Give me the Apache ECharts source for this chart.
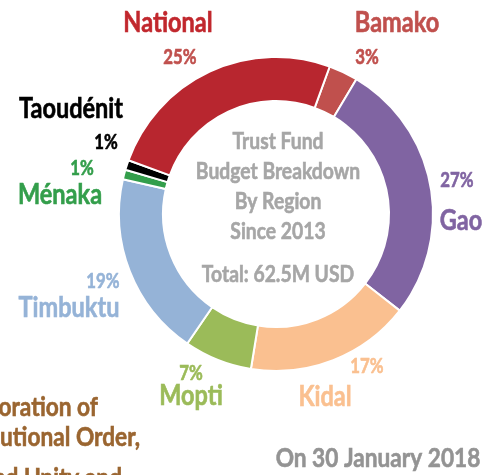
<!DOCTYPE html>
<html>
<head>
<meta charset="utf-8">
<script src="https://cdn.jsdelivr.net/npm/echarts@6/dist/echarts.min.js"></script>
<style>
html,body{margin:0;padding:0;background:#fff}
#main{width:495px;height:475px}
</style>
</head>
<body>
<div id="main"></div>
<script>
// data (share of budget, %)
var regions = ['Bamako', 'Gao', 'Kidal', 'Mopti', 'Timbuktu', 'Ménaka', 'Taoudénit', 'National'];
var shares = [3, 27, 17, 7, 19, 1, 1, 25];
var centerLines = ['Trust Fund', 'Budget Breakdown', 'By Region', 'Since 2013'];
var totalText = 'Total: 62.5M USD';
var dateText = 'On 30 January 2018';
var sideLines = ['Restoration of', 'Constitutional Order,', 'Peace and Unity and'];

// styles
var sliceColors = ['#c0504d', '#8064a2', '#fac090', '#9bbb59', '#95b3d7', '#339e4b', '#000000', '#b8262f'];
var nameColors  = ['#c0504d', '#8064a2', '#fac090', '#9bbb59', '#95b3d7', '#339e4b', '#000000', '#c1272d'];
var pctColors   = ['#c0504d', '#8064a2', '#fac090', '#9bbb59', '#95b3d7', '#339e4b', '#000000', '#c0504d'];
// [nameX, nameY, pctX, pctY] centre of each text
var labelPos = [
  [397, 23, 367, 58],
  [461, 221, 457, 181],
  [325, 397, 367, 367],
  [191, 396, 191, 374],
  [69, 308, 103, 282],
  [60, 195, 82, 169],
  [71, 109, 106, 143],
  [168, 23, 180, 58]
];
var FONT = 'Lato, Roboto, sans-serif';
var NARROW = 0.84; // squeeze to look like a condensed face

var myChart = echarts.init(document.getElementById('main'));

function txt(t, x, y, color, size, align) {
  return {
    type: 'text', silent: true, x: x, y: y, scaleX: NARROW,
    style: { text: t, x: 0, y: 0, fill: color, font: 'bold ' + size + 'px ' + FONT,
      stroke: color, lineWidth: 0.6,
      textAlign: align || 'center', textVerticalAlign: 'middle' }
  };
}

var g = [];
regions.forEach(function(n, i) {
  var p = labelPos[i];
  g.push(txt(n, p[0], p[1], nameColors[i], 28));
  g.push(txt(shares[i] + '%', p[2], p[3], pctColors[i], 20));
});
centerLines.forEach(function(t, i) {
  g.push(txt(t, 278, 142 + i * 30, '#a6a6a6', 23));
});
g.push(txt(totalText, 278, 275, '#a6a6a6', 23));
g.push(txt(dateText, 378, 458, '#939393', 27));
var sideEnds = [98, 140, 122];
var sideY = [407, 437, 478];
sideLines.forEach(function(t, i) {
  g.push(txt(t, sideEnds[i], sideY[i], '#9a6530', 27, 'right'));
});

var option = {
  animation: false,
  backgroundColor: '#ffffff',
  graphic: g,
  series: [{
    type: 'pie',
    center: [276, 214],
    radius: [113, 157],
    startAngle: 70,
    clockwise: true,
    silent: true,
    label: { show: false },
    labelLine: { show: false },
    itemStyle: { borderColor: '#ffffff', borderWidth: 2 },
    data: regions.map(function(n, i) {
      return { name: n, value: shares[i], itemStyle: { color: sliceColors[i] } };
    })
  }]
};
myChart.setOption(option);
</script>
</body>
</html>
